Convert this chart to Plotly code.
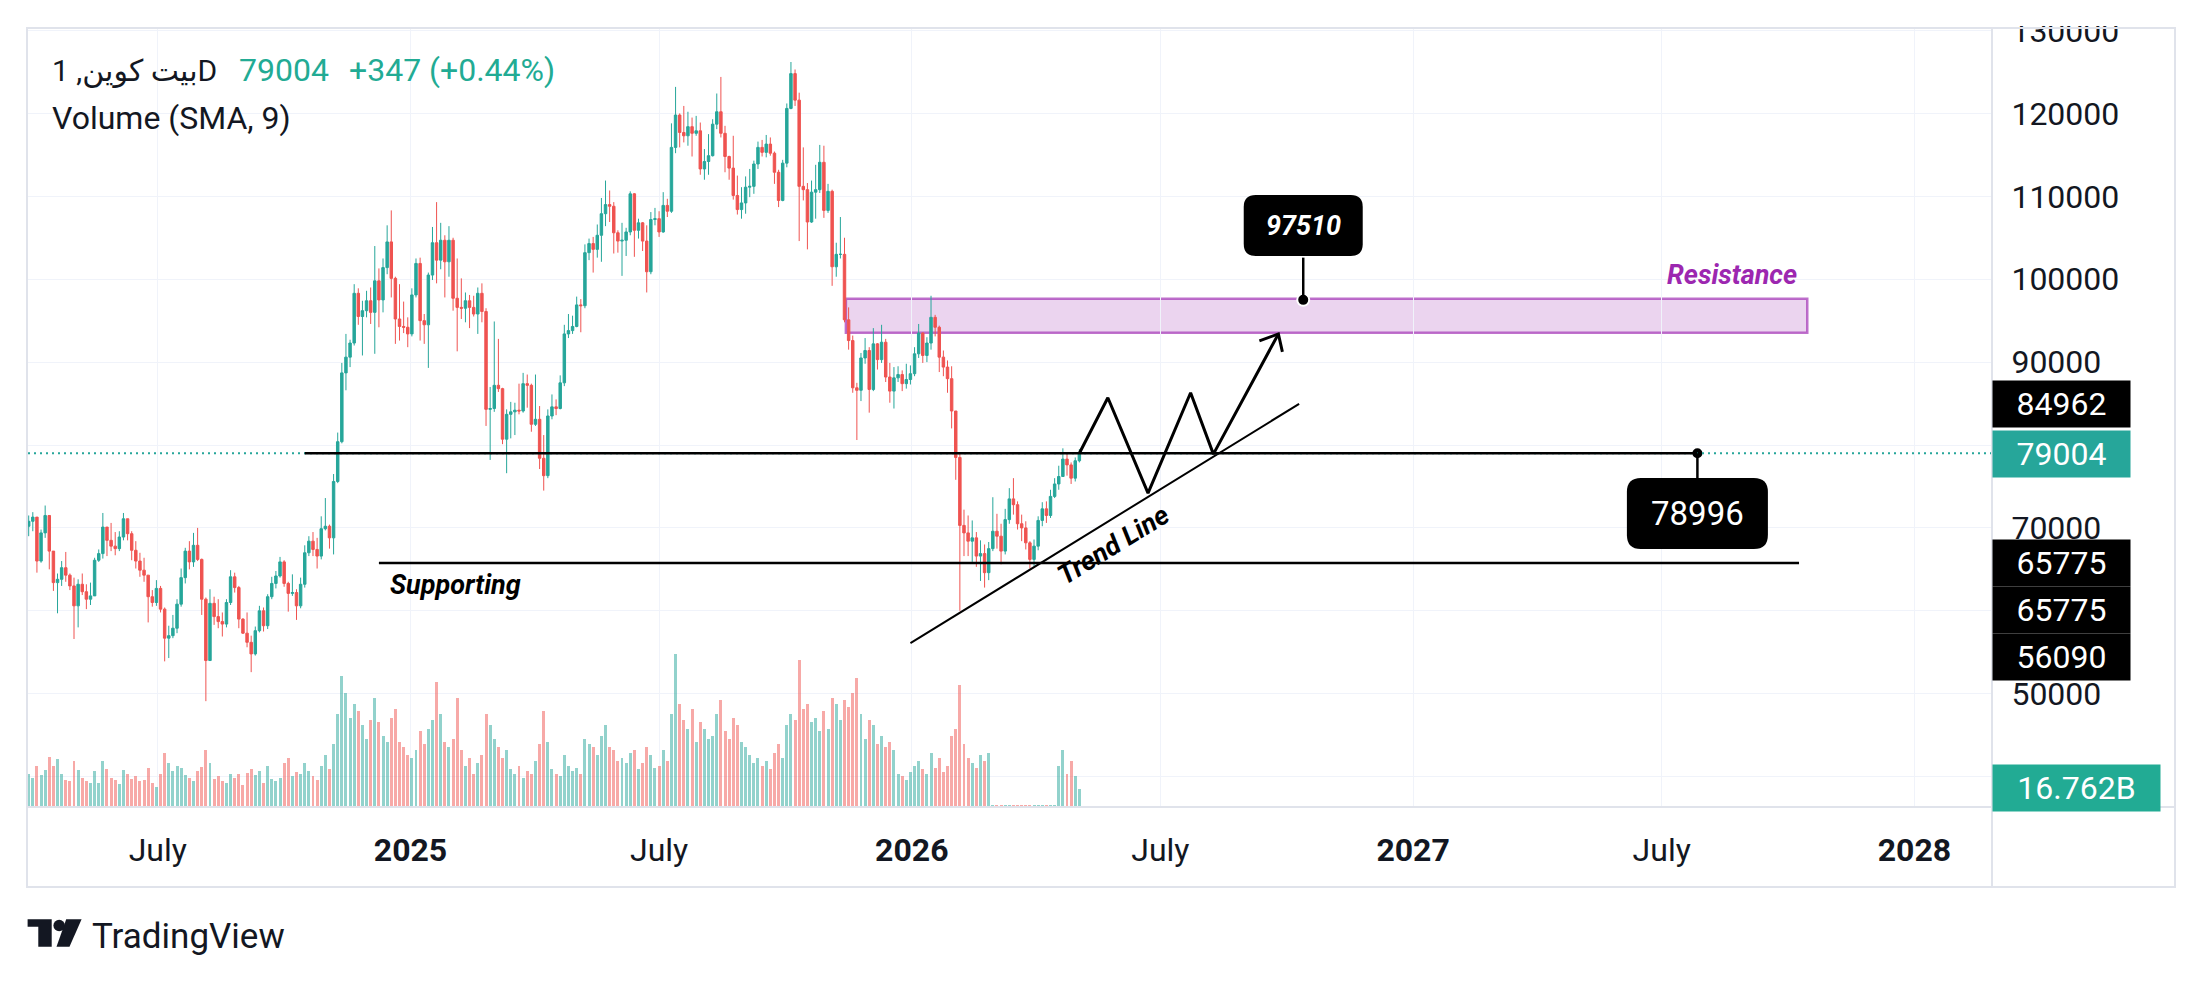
import pandas as pd
import plotly.graph_objects as go

# BTC price, 3-day candles starting 2024-03-28 (values in thousands)
start_date = "2024-03-28"
first_open_k = 70.2
close_k = [
    70.8, 71.3, 66.0, 69.4, 71.5, 67.2, 63.4, 63.8, 65.2, 64.3, 63.0, 60.6, 63.2, 62.3, 61.4, 61.8,
    66.1, 66.9, 70.1, 68.5, 67.8, 67.5, 68.9, 71.1, 69.3, 67.3, 66.0, 64.9, 64.3, 61.7, 61.0, 62.7,
    60.2, 56.7, 57.0, 57.9, 60.8, 64.0, 67.2, 65.9, 67.9, 66.2, 61.4, 54.0, 60.9, 59.3, 58.7, 58.4,
    61.0, 64.1, 62.8, 59.0, 57.3, 56.2, 54.8, 57.6, 60.0, 58.2, 61.7, 63.3, 64.2, 65.9, 63.3, 62.1,
    62.2, 60.6, 63.2, 67.0, 68.4, 67.4, 66.6, 69.9, 70.2, 68.8, 75.6, 80.4, 88.7, 90.6, 92.3, 98.3,
    95.5, 96.2, 97.4, 96.0, 99.8, 97.5, 101.4, 104.5, 100.1, 95.2, 94.3, 94.2, 93.4, 98.1, 101.9, 95.0,
    94.5, 100.5, 104.4, 102.3, 104.7, 102.1, 104.7, 97.7, 96.6, 96.5, 97.4, 96.6, 95.8, 98.3, 96.1, 84.3,
    84.4, 87.2, 86.8, 80.7, 83.7, 84.0, 84.2, 84.1, 87.4, 87.2, 82.5, 83.1, 78.4, 76.3, 83.5, 84.6,
    84.4, 87.5, 93.4, 93.8, 94.3, 96.9, 96.8, 103.2, 104.3, 103.6, 105.3, 107.9, 109.0, 108.8, 105.6, 104.6,
    104.7, 105.7, 110.3, 105.9, 106.8, 104.6, 100.9, 107.2, 107.3, 105.7, 108.9, 108.2, 115.9, 119.8, 117.7, 117.3,
    118.4, 117.6, 117.9, 113.3, 114.2, 114.9, 118.7, 120.2, 117.6, 114.8, 113.4, 110.1, 108.4, 109.2, 111.1, 111.2,
    113.9, 115.9, 115.3, 116.3, 115.2, 112.9, 109.5, 114.0, 120.6, 124.8, 121.6, 111.2, 110.8, 106.9, 110.5, 110.8,
    114.1, 108.3, 110.6, 101.5, 103.0, 103.0, 95.1, 92.6, 86.9, 86.6, 90.5, 91.4, 86.7, 92.2, 90.3, 92.4,
    88.2, 86.5, 88.1, 88.5, 87.4, 87.9, 88.6, 91.0, 93.5, 90.8, 92.3, 95.4, 94.2, 90.6, 89.4, 88.0,
    84.1, 78.5, 70.3, 69.4, 68.4, 68.8, 66.6, 66.9, 64.6, 67.5, 69.6, 69.0, 67.2, 71.0, 73.5, 72.8,
    70.5, 70.0, 68.2, 66.2, 67.8, 70.9, 72.3, 71.5, 73.8, 75.3, 76.2, 78.3, 77.6, 76.0, 78.1, 79.004,
]
high_k = [
    71.5, 71.9, 69.5, 69.8, 72.7, 71.2, 66.9, 64.5, 66.0, 67.1, 64.5, 64.0, 63.8, 64.5, 63.2, 63.4,
    66.4, 67.4, 71.8, 70.0, 70.6, 69.5, 69.6, 71.8, 71.0, 69.6, 68.4, 67.0, 66.4, 64.2, 62.5, 63.7,
    63.0, 60.4, 58.2, 59.5, 61.4, 65.1, 67.6, 68.4, 69.4, 70.0, 66.3, 61.6, 62.6, 61.7, 61.4, 59.8,
    61.4, 64.9, 64.6, 63.0, 59.1, 59.8, 57.0, 58.1, 60.6, 60.4, 62.0, 64.1, 64.8, 66.5, 66.1, 63.5,
    64.4, 62.6, 64.0, 67.9, 69.0, 69.5, 68.8, 71.4, 73.6, 70.4, 76.5, 81.5, 89.9, 93.4, 92.7, 99.4,
    98.9, 97.4, 98.6, 99.0, 104.0, 101.3, 102.5, 106.5, 108.3, 100.3, 99.4, 97.3, 95.4, 98.9, 102.5, 102.6,
    95.8, 100.8, 106.3, 109.3, 106.8, 105.3, 106.4, 105.0, 102.5, 100.1, 98.4, 98.1, 98.0, 99.0, 99.5, 96.5,
    87.0, 94.9, 92.8, 86.9, 84.3, 85.2, 85.1, 87.4, 88.7, 88.5, 87.4, 88.5, 84.7, 81.2, 84.3, 86.1,
    85.5, 88.4, 94.5, 95.8, 95.6, 97.9, 97.6, 104.2, 104.9, 105.1, 106.6, 109.8, 111.9, 110.7, 109.3, 105.9,
    106.8, 106.2, 110.6, 110.4, 107.3, 106.9, 106.5, 108.1, 108.6, 108.2, 110.5, 109.7, 118.8, 123.2, 120.0, 120.9,
    120.2, 119.5, 119.7, 118.9, 115.7, 117.5, 119.3, 122.4, 124.4, 118.5, 114.9, 117.3, 112.5, 111.1, 112.4, 113.3,
    114.3, 116.6, 116.8, 117.4, 117.1, 115.4, 113.2, 114.4, 121.2, 126.2, 125.3, 122.5, 115.9, 111.6, 111.9, 113.8,
    116.2, 116.1, 111.5, 110.8, 104.4, 107.5, 105.0, 96.6, 93.2, 87.5, 91.1, 92.9, 91.8, 94.1, 92.3, 94.5,
    92.8, 89.9, 89.4, 89.5, 89.0, 89.8, 89.6, 91.8, 94.6, 93.6, 93.0, 98.0, 95.7, 94.4, 91.4, 90.2,
    89.5, 84.1, 79.0, 72.2, 71.5, 70.9, 69.5, 68.5, 68.0, 68.3, 73.7, 71.7, 70.5, 72.3, 74.8, 76.0,
    73.2, 71.6, 70.8, 68.4, 68.6, 71.4, 73.1, 73.2, 74.6, 76.0, 77.5, 79.6, 78.9, 77.9, 78.5, 79.5,
]
low_k = [
    69.0, 69.6, 64.6, 65.8, 68.8, 65.0, 62.4, 59.7, 63.0, 63.5, 62.5, 56.6, 58.0, 61.9, 60.2, 60.7,
    61.8, 65.9, 66.3, 66.6, 67.2, 66.7, 67.2, 68.5, 68.5, 66.1, 65.1, 64.1, 63.5, 58.6, 60.5, 60.6,
    59.8, 53.9, 54.3, 56.7, 57.3, 60.5, 63.3, 65.0, 65.3, 66.0, 59.5, 49.1, 54.5, 58.3, 57.9, 56.9,
    58.0, 60.7, 62.2, 57.9, 57.2, 55.6, 52.6, 54.6, 57.4, 57.5, 57.8, 61.4, 62.7, 64.0, 62.9, 59.9,
    61.8, 58.9, 60.3, 62.8, 66.6, 66.6, 65.1, 66.2, 69.7, 67.5, 66.8, 75.4, 80.2, 86.6, 89.4, 92.0,
    94.5, 90.8, 95.4, 94.6, 91.0, 94.2, 96.0, 100.6, 97.8, 92.2, 92.6, 93.5, 91.8, 93.1, 97.8, 92.6,
    92.2, 89.3, 99.9, 99.5, 101.2, 97.8, 100.3, 96.2, 91.3, 95.2, 94.8, 94.1, 95.5, 93.4, 94.8, 82.3,
    78.2, 84.0, 86.4, 80.1, 76.6, 80.8, 81.2, 83.7, 83.9, 84.5, 81.6, 82.3, 77.1, 74.5, 76.0, 83.1,
    83.6, 84.3, 87.1, 92.9, 93.4, 94.2, 93.6, 96.5, 102.3, 100.8, 102.6, 102.1, 106.4, 106.9, 103.1, 103.2,
    100.4, 102.8, 105.3, 102.7, 104.9, 103.4, 98.4, 100.6, 106.5, 105.1, 105.6, 107.5, 108.0, 115.2, 115.9, 116.5,
    116.1, 114.8, 117.3, 112.6, 112.0, 112.6, 114.8, 118.1, 117.1, 112.9, 112.0, 109.6, 107.8, 107.3, 107.9, 109.9,
    110.3, 113.3, 114.8, 114.7, 114.9, 111.5, 108.7, 109.4, 113.5, 120.5, 120.9, 104.6, 109.5, 103.6, 106.8, 107.3,
    110.4, 107.4, 108.0, 99.2, 100.3, 102.5, 94.8, 91.5, 86.3, 80.6, 85.3, 89.8, 83.9, 86.5, 89.1, 89.9,
    87.6, 85.1, 84.4, 87.6, 86.5, 86.8, 87.3, 88.3, 90.5, 89.9, 90.0, 91.5, 93.1, 88.8, 88.3, 86.3,
    82.0, 75.8, 60.0, 66.6, 66.6, 65.9, 65.3, 63.6, 62.8, 63.7, 67.2, 67.5, 65.6, 66.8, 70.5, 71.6,
    69.8, 68.4, 67.4, 65.1, 65.4, 67.3, 70.2, 70.6, 71.2, 73.6, 74.6, 76.4, 76.3, 75.3, 75.6, 77.9,
]
# volume in billions
volume_b = [
    30, 27, 38, 29, 34, 46, 38, 44, 30, 25, 24, 42, 34, 27, 24, 22,
    33, 22, 42, 35, 27, 25, 21, 34, 30, 26, 28, 24, 25, 36, 22, 18,
    30, 50, 40, 33, 38, 36, 29, 27, 24, 33, 37, 52,
    40, 26, 28, 24, 22, 30, 27, 30, 20, 31, 35, 29, 33, 22, 38, 26, 24, 27, 40,
    45, 28, 32, 30, 40, 33, 28, 25, 38, 48, 35,
    58, 85, 120, 105, 82, 95, 88, 75, 62, 80, 100, 78, 65, 60, 82, 90, 60, 55, 48,
    45, 52, 70, 58, 72, 80, 115, 85, 60, 55, 62, 100, 52, 38, 45, 30, 40, 48,
    85, 75, 62, 55, 45, 52, 35, 30, 38, 27, 33, 30, 42, 58, 88, 60, 35, 30, 28, 48,
    38, 33, 36, 30, 62, 58, 55, 48, 65, 75, 55, 52, 42, 45, 40, 50, 52, 35, 40, 55, 48, 36, 38, 52, 42,
    85, 140, 95, 80, 72, 90, 60, 78, 72, 62, 65, 85, 98, 70, 62, 82, 75, 60, 55, 48, 40, 45, 38, 42, 35, 50, 58, 45,
    75, 85, 80, 135, 90, 95, 78, 82, 70, 88, 72, 100, 95, 80, 98, 92, 105, 118, 85, 62, 80, 75, 58, 65, 55, 60, 52,
    30, 28, 25, 32,
    38, 42, 35, 30, 50, 36, 45, 32, 38, 65, 72, 112, 58, 45, 40, 36, 48, 42, 50,
    1.5, 1.5, 1.5, 1.5, 1.5, 1.5, 1.5, 1.5, 1.5, 1.5, 1.5, 1.5, 1.5, 1.5, 1.5, 1.5,
    38, 52, 30, 42, 28, 16.762,
]

x_ticks = ["2024-07-01", "2025-01-01", "2025-07-01", "2026-01-01",
           "2026-07-01", "2027-01-01", "2027-07-01", "2028-01-01"]
x_tick_text = ["July", "<b>2025</b>", "July", "<b>2026</b>",
               "July", "<b>2027</b>", "July", "<b>2028</b>"]
price_ticks = [40000, 50000, 60000, 70000, 80000, 90000, 100000, 110000, 120000, 130000]
# 40000, 60000 and 80000 sit behind the price tags on the scale
price_tick_text = ["", "50000", "", "70000", "", "90000", "100000", "110000", "120000", "130000"]

# drawings
zig_dates = ["2026-05-03", "2026-05-23 18:00", "2026-06-22", "2026-07-23",
             "2026-08-08 14:00", "2026-09-24 22:00"]
zig_prices = [79004, 85700, 74200, 86300, 78900, 93400]
trend_dates = ["2025-12-31", "2026-10-10"]
trend_prices = [56090, 84962]
support_dates = ["2024-12-09", "2027-10-09"]
support_price = 65775
level_dates = ["2024-10-16", "2027-07-27"]
level_price = 78996
zone_dates = ["2025-11-14", "2027-10-15"]
zone_prices = [93550, 97650]
dot_dates = ["2026-10-13", "2027-07-27"]
dot_prices = [97510, 78996]
last_price = 79004

UP = "#26a69a"
DOWN = "#ef5350"
TEXT = "#131722"
GRID = "#f0f3fa"
BORDER = "#e0e3eb"
FONT = "Roboto, 'DejaVu Sans', sans-serif"

dates = pd.date_range(start_date, periods=len(close_k), freq="3D") + pd.Timedelta(days=1)
close = [c * 1000 for c in close_k]
opens = [first_open_k * 1000] + close[:-1]
high = [max(h * 1000, o, c) for h, o, c in zip(high_k, opens, close)]
low = [min(l * 1000, o, c) for l, o, c in zip(low_k, opens, close)]
vol_colors = ["rgba(38,166,154,0.5)" if c >= o else "rgba(239,83,80,0.5)"
              for o, c in zip(opens, close)]


# page pixel -> paper (plot area spans 28..1992 x 28..807 on the page)
def px_x(x):
    return (x - 28) / 1964


def px_y(y):
    return (807 - y) / 779


def rounded_box(w, h, r):
    a, b = w / 2, h / 2
    return (f"M {-a + r},{-b} L {a - r},{-b} Q {a},{-b} {a},{-b + r} "
            f"L {a},{b - r} Q {a},{b} {a - r},{b} L {-a + r},{b} "
            f"Q {-a},{b} {-a},{b - r} L {-a},{-b + r} Q {-a},{-b} {-a + r},{-b} Z")


fig = go.Figure()

fig.add_trace(go.Bar(
    x=dates, y=[v * 1e9 for v in volume_b], marker=dict(color=vol_colors, line=dict(width=0)),
    width=3 * 86400000 * 0.72, yaxis="y", hoverinfo="skip",
))
fig.add_trace(go.Candlestick(
    x=dates, open=opens, high=high, low=low, close=close, yaxis="y2",
    increasing=dict(line=dict(color=UP, width=1), fillcolor=UP),
    decreasing=dict(line=dict(color=DOWN, width=1), fillcolor=DOWN),
    whiskerwidth=0, hoverinfo="skip",
))
fig.add_trace(go.Scatter(x=zig_dates, y=zig_prices, mode="lines", yaxis="y2",
                         line=dict(color="black", width=3), hoverinfo="skip"))
fig.add_trace(go.Scatter(x=trend_dates, y=trend_prices, mode="lines", yaxis="y2",
                         line=dict(color="black", width=2), hoverinfo="skip"))

shapes = [
    # resistance zone
    dict(type="rect", xref="x", yref="y2", x0=zone_dates[0], x1=zone_dates[1],
         y0=zone_prices[0], y1=zone_prices[1], fillcolor="rgba(156,39,176,0.2)",
         line=dict(color="rgba(156,39,176,0.65)", width=2.5), layer="below"),
    # current price dotted line
    dict(type="line", xref="paper", yref="y2", x0=0, x1=1, y0=last_price, y1=last_price,
         line=dict(color=UP, width=2, dash="2px,4px"), layer="above"),
    dict(type="line", xref="x", yref="y2", x0=level_dates[0], x1=level_dates[1],
         y0=level_price, y1=level_price, line=dict(color="black", width=2.5), layer="above"),
    dict(type="line", xref="x", yref="y2", x0=support_dates[0], x1=support_dates[1],
         y0=support_price, y1=support_price, line=dict(color="black", width=2.5), layer="above"),
    # callout connectors
    dict(type="line", xref="x", yref="y2", x0=dot_dates[0], x1=dot_dates[0],
         y0=dot_prices[0], y1=102600, line=dict(color="black", width=2.5), layer="above"),
    dict(type="line", xref="x", yref="y2", x0=dot_dates[1], x1=dot_dates[1],
         y0=dot_prices[1], y1=75800, line=dict(color="black", width=2.5), layer="above"),
    # callout boxes
    dict(type="path", xref="x", yref="y2", xsizemode="pixel", ysizemode="pixel",
         xanchor=dot_dates[0], yanchor=106478, path=rounded_box(119, 61, 12),
         fillcolor="black", line=dict(width=0), layer="above"),
    dict(type="path", xref="x", yref="y2", xsizemode="pixel", ysizemode="pixel",
         xanchor=dot_dates[1], yanchor=71737, path=rounded_box(141, 71, 14),
         fillcolor="black", line=dict(width=0), layer="above"),
    # arrowhead
    dict(type="path", xref="x", yref="y2", xsizemode="pixel", ysizemode="pixel",
         xanchor=zig_dates[-1], yanchor=zig_prices[-1], path="M -19,-7 L 0,0 L 4,-18",
         fillcolor="rgba(0,0,0,0)", line=dict(color="black", width=3), layer="above"),
    # hide top of clipped price label
    dict(type="rect", xref="paper", yref="paper", x0=1.0005, x1=1.2, y0=px_y(26), y1=px_y(0),
         fillcolor="white", line=dict(width=0), layer="above"),
    # frame
    dict(type="rect", xref="paper", yref="paper", x0=px_x(27), x1=px_x(2175),
         y0=px_y(887), y1=px_y(28), line=dict(color=BORDER, width=2), layer="above"),
    dict(type="line", xref="paper", yref="paper", x0=1, x1=1, y0=px_y(887), y1=px_y(28),
         line=dict(color=BORDER, width=2), layer="above"),
    dict(type="line", xref="paper", yref="paper", x0=px_x(27), x1=px_x(2175), y0=0, y1=0,
         line=dict(color=BORDER, width=2), layer="above"),
]

# TradingView logo
logo_t = [(27.6, 919.3), (51.7, 919.3), (51.7, 946.7), (38.3, 946.7), (38.3, 926.7), (27.6, 926.7)]
logo_slash = [(66.2, 919.3), (81.6, 919.3), (69.5, 946.7), (56.5, 946.7)]
for pts in (logo_t, logo_slash):
    path = "M " + " L ".join(f"{px_x(a):.5f},{px_y(b):.5f}" for a, b in pts) + " Z"
    shapes.append(dict(type="path", xref="paper", yref="paper", path=path,
                       fillcolor=TEXT, line=dict(width=0), layer="above"))
shapes.append(dict(type="circle", xref="paper", yref="paper", x0=px_x(53.4), x1=px_x(64.9),
                   y0=px_y(931.2), y1=px_y(919.7), fillcolor=TEXT, line=dict(width=0),
                   layer="above"))

fig.add_trace(go.Scatter(x=dot_dates, y=dot_prices, mode="markers", yaxis="y2",
                         marker=dict(color="black", size=12, line=dict(color="white", width=2)),
                         hoverinfo="skip", cliponaxis=False))

annotations = [
    dict(text="بيت كوين, 1D", x=px_x(50), y=px_y(70), font=dict(size=30, color=TEXT)),
    dict(text="79004", x=px_x(237), y=px_y(70), font=dict(size=32, color="#22ab94")),
    dict(text="+347 (+0.44%)", x=px_x(347), y=px_y(70), font=dict(size=32, color="#22ab94")),
    dict(text="Volume (SMA, 9)", x=px_x(50), y=px_y(118), font=dict(size=32, color=TEXT)),
    dict(text="TradingView", x=px_x(90), y=px_y(936), font=dict(size=35, color=TEXT)),
]
for a in annotations:
    a.update(xref="paper", yref="paper", xanchor="left", yanchor="middle", showarrow=False)

annotations += [
    dict(text="<b><i>Supporting</i></b>", x="2025-02-03", y=63112, xref="x", yref="y2",
         showarrow=False, font=dict(size=27, color="black")),
    dict(text="<b><i>Trend Line</i></b>", x="2026-05-28", y=67940, xref="x", yref="y2",
         showarrow=False, textangle=-31.6, font=dict(size=27, color="black")),
    dict(text="<b><i>Resistance</i></b>", x="2027-10-09", y=100507, xref="x", yref="y2",
         xanchor="right", showarrow=False, font=dict(size=27, color="#9c27b0")),
    dict(text="<b><i>97510</i></b>", x=dot_dates[0], y=106478, xref="x", yref="y2",
         showarrow=False, font=dict(size=27, color="white")),
    dict(text="78996", x=dot_dates[1], y=71737, xref="x", yref="y2",
         showarrow=False, font=dict(size=33, color="white")),
]

# price scale tags
tag_text = ["84962", "79004", "65775", "65775", "56090", "16.762B"]
tag_color = ["black", UP, "black", "black", "black", "#22ab94"]
tag_y_px = [404.4, 453.6, 563.3, 609.8, 657.4, 787.6]
tag_w = [137, 137, 137, 137, 137, 167]
for t, c, yp, w in zip(tag_text, tag_color, tag_y_px, tag_w):
    annotations.append(dict(text=t, x=1, y=px_y(yp), xref="paper", yref="paper",
                            xanchor="left", yanchor="middle", showarrow=False,
                            width=w, height=46, bgcolor=c, borderpad=0, align="center",
                            font=dict(size=32, color="white")))

# the page body adds an 8px offset, so the figure is 16px smaller than the window
fig.update_layout(
    width=2184, height=966,
    margin=dict(l=20, r=200, t=20, b=167, autoexpand=False),
    paper_bgcolor="white", plot_bgcolor="white",
    showlegend=False, font=dict(family=FONT, color=TEXT),
    bargap=0, boxgap=0.15,
    xaxis=dict(type="date", range=["2024-03-28 12:00", "2028-02-26 12:00"],
               tickvals=x_ticks, ticktext=x_tick_text, showgrid=True, gridcolor=GRID,
               gridwidth=1, ticks="outside", ticklen=15, tickcolor="rgba(0,0,0,0)",
               tickfont=dict(size=32, color=TEXT), zeroline=False, showline=False,
               automargin=False, rangeslider=dict(visible=False)),
    yaxis=dict(range=[0, 715e9], visible=False, automargin=False),
    yaxis2=dict(overlaying="y", side="right", range=[36333, 130302], tickvals=price_ticks,
                ticktext=price_tick_text, showgrid=True, gridcolor=GRID, gridwidth=1,
                ticks="outside", ticklen=12, tickcolor="rgba(0,0,0,0)",
                tickfont=dict(size=32, color=TEXT), zeroline=False, showline=False,
                automargin=False),
    shapes=shapes,
    annotations=annotations,
)

fig.write_html("out.html")
